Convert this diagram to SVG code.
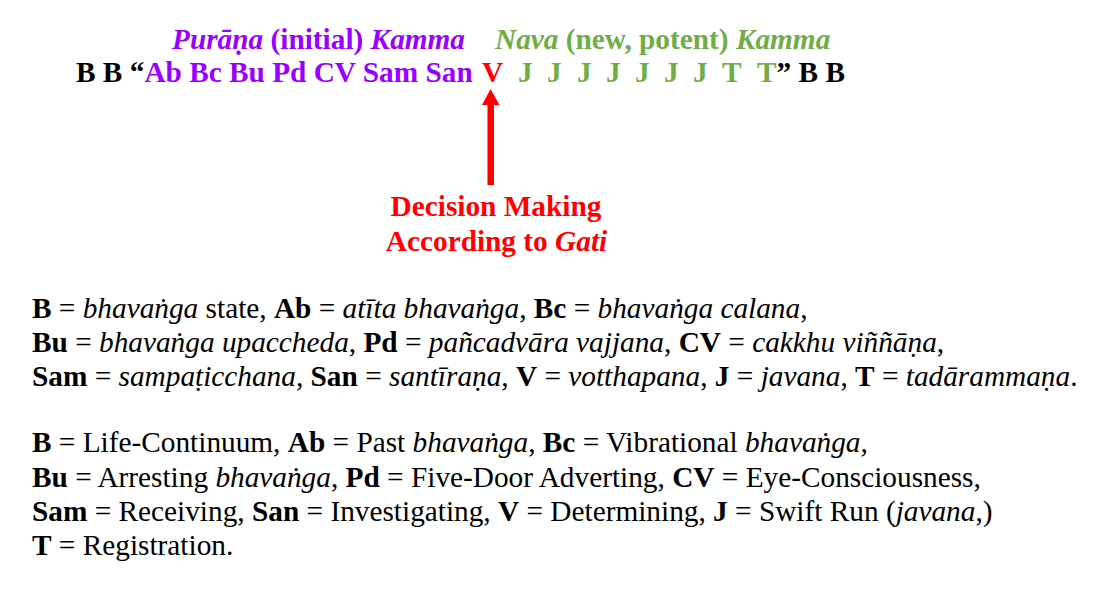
<svg xmlns="http://www.w3.org/2000/svg" width="1120" height="596" viewBox="0 0 1120 596">
<style>
text { font-family: 'Liberation Serif', 'Times New Roman', serif; font-size: 29.3px; }
.b { font-weight: bold; }
.i { font-style: italic; }
.pu { fill: #9900FF; }
.gr { fill: #70AD47; }
.rd { fill: #FF0000; }
.bk { fill: #000000; }
</style>
<rect width="1120" height="596" fill="#FFFFFF"/>

<g id="header">
  <text class="b pu" x="172" y="49"><tspan class="i">Purāṇa</tspan> (initial) <tspan class="i">Kamma</tspan></text>
  <text class="b gr" x="495" y="49"><tspan class="i">Nava</tspan> (new, potent) <tspan class="i">Kamma</tspan></text>
</g>

<g id="sequence">
  <text class="b" y="82"><tspan class="bk" x="76">B B “</tspan><tspan class="pu">Ab Bc Bu Pd CV Sam San</tspan><tspan class="rd" x="482">V</tspan><tspan class="gr" x="518">J</tspan><tspan class="gr" x="547">J</tspan><tspan class="gr" x="577">J</tspan><tspan class="gr" x="606">J</tspan><tspan class="gr" x="635">J</tspan><tspan class="gr" x="664">J</tspan><tspan class="gr" x="693">J</tspan><tspan class="gr" x="722">T</tspan><tspan class="gr" x="757">T</tspan><tspan class="bk">” B B</tspan></text>
</g>

<g id="connectors">
  <path d="M487.5,185 L487.5,105 L482,105 L490.5,89 L499.5,105 L494,105 L494,185 Z" fill="#FF0000"/>
</g>

<g id="decision-label">
  <text class="b rd" x="496" y="216" text-anchor="middle">Decision Making</text>
  <text class="b rd" x="496.5" y="250.5" text-anchor="middle">According to <tspan class="i">Gati</tspan></text>
</g>

<g id="pali-legend">
  <text x="32" y="318"><tspan class="b">B</tspan> = <tspan class="i">bhavaṅga</tspan> state, <tspan class="b">Ab</tspan> = <tspan class="i">atīta bhavaṅga</tspan>, <tspan class="b">Bc</tspan> = <tspan class="i">bhavaṅga calana</tspan>,</text>
  <text x="32" y="352"><tspan class="b">Bu</tspan> = <tspan class="i">bhavaṅga upaccheda</tspan>, <tspan class="b">Pd</tspan> = <tspan class="i">pañcadvāra vajjana</tspan>, <tspan class="b">CV</tspan> = <tspan class="i">cakkhu viññāṇa</tspan>,</text>
  <text x="32" y="386"><tspan class="b">Sam</tspan> = <tspan class="i">sampaṭicchana</tspan>, <tspan class="b">San</tspan> = <tspan class="i">santīraṇa</tspan>, <tspan class="b">V</tspan> = <tspan class="i">votthapana</tspan>, <tspan class="b">J</tspan> = <tspan class="i">javana</tspan>, <tspan class="b">T</tspan> = <tspan class="i">tadārammaṇa</tspan>.</text>
</g>

<g id="english-legend">
  <text x="32" y="452"><tspan class="b">B</tspan> = Life-Continuum, <tspan class="b">Ab</tspan> = Past <tspan class="i">bhavaṅga</tspan>, <tspan class="b">Bc</tspan> = Vibrational <tspan class="i">bhavaṅga</tspan>,</text>
  <text x="32" y="486.5"><tspan class="b">Bu</tspan> = Arresting <tspan class="i">bhavaṅga</tspan>, <tspan class="b">Pd</tspan> = Five-Door Adverting, <tspan class="b">CV</tspan> = Eye-Consciousness,</text>
  <text x="32" y="521"><tspan class="b">Sam</tspan> = Receiving, <tspan class="b">San</tspan> = Investigating, <tspan class="b">V</tspan> = Determining, <tspan class="b">J</tspan> = Swift Run (<tspan class="i">javana</tspan>,)</text>
  <text x="32" y="555"><tspan class="b">T</tspan> = Registration.</text>
</g>
</svg>
